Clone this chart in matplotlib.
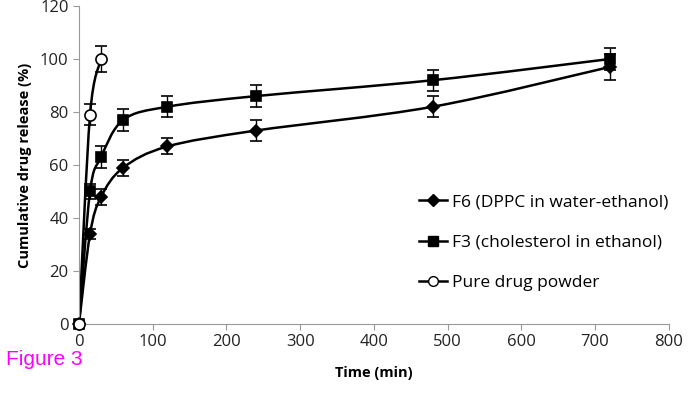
import numpy as np
import matplotlib.pyplot as plt
from matplotlib.path import Path
from matplotlib.patches import PathPatch
from matplotlib.lines import Line2D

# =========================
# Data
# =========================
t_f6 = [0, 15, 30, 60, 120, 240, 480, 720]
f6 = [0, 34, 48, 59, 67, 73, 82, 97]
f6_err = [0, 2, 3, 3, 3, 4, 4, 5]

t_f3 = [0, 15, 30, 60, 120, 240, 480, 720]
f3 = [0, 50, 63, 77, 82, 86, 92, 100]
f3_err = [0, 3, 4, 4, 4, 4, 4, 4]

t_pure = [0, 15, 30]
pure = [0, 79, 100]
pure_err = [0, 4, 5]

labels = ["F6 (DPPC in water-ethanol)", "F3 (cholesterol in ethanol)", "Pure drug powder"]


def smooth_path(x, y):
    # Excel-like smoothed line: cubic Bezier segments through the points
    x = np.asarray(x, float)
    y = np.asarray(y, float)
    verts = [(x[0], y[0])]
    codes = [Path.MOVETO]
    n = len(x)
    for i in range(n - 1):
        x0, y0 = (x[i - 1], y[i - 1]) if i > 0 else (x[i], y[i])
        x3, y3 = (x[i + 2], y[i + 2]) if i + 2 < n else (x[i + 1], y[i + 1])
        c1 = (x[i] + (x[i + 1] - x0) / 6, y[i] + (y[i + 1] - y0) / 6)
        c2 = (x[i + 1] - (x3 - x[i]) / 6, y[i + 1] - (y3 - y[i]) / 6)
        verts += [c1, c2, (x[i + 1], y[i + 1])]
        codes += [Path.CURVE4] * 3
    return Path(verts, codes)


plt.rcParams['font.family'] = ['Open Sans', 'DejaVu Sans']

fig = plt.figure(figsize=(6.96, 4), dpi=100)
ax = fig.add_axes([0.1135, 0.19, 0.8475, 0.795])

series = [
    (t_f6, f6, f6_err, 'D', 'black', 6.5),
    (t_f3, f3, f3_err, 's', 'black', 7),
    (t_pure, pure, pure_err, 'o', 'white', 8),
]
for t, v, e, m, fc, ms in series:
    ax.add_patch(PathPatch(smooth_path(t, v), fill=False, lw=1.8, ec='black', zorder=2))
    ax.errorbar(t, v, yerr=e, fmt=m, mfc=fc, mec='black', mew=1.2, ms=ms,
                ecolor='black', elinewidth=1, capsize=4, capthick=1, zorder=3,
                clip_on=False)

ax.set_xlim(0, 800)
ax.set_ylim(0, 120)
ax.set_xticks(range(0, 801, 100))
ax.set_yticks(range(0, 121, 20))
for s in ['top', 'right']:
    ax.spines[s].set_visible(False)
for s in ['left', 'bottom']:
    ax.spines[s].set_color('#999999')
ax.tick_params(colors='#999999', labelcolor='#222222', labelsize=12, length=4, direction='out')

ax.set_xlabel("Time (min)", fontsize=10.5, fontweight='bold', labelpad=11)
ax.set_ylabel("Cumulative drug release (%)", fontsize=10.5, fontweight='bold', labelpad=6)

handles = [
    Line2D([], [], color='black', lw=1.8, marker='D', ms=6, mfc='black', mec='black'),
    Line2D([], [], color='black', lw=1.8, marker='s', ms=7, mfc='black', mec='black'),
    Line2D([], [], color='black', lw=1.8, marker='o', ms=7, mfc='white', mec='black'),
]
ax.legend(handles, labels, loc='center left', bbox_to_anchor=(0.55, 0.255), frameon=False,
          fontsize=12.5, handlelength=1.6, handletextpad=0.3, labelspacing=1.4)

fig.text(0.009, 0.088, "Figure 3", color='#ff00ff', fontsize=15, family='Liberation Sans')

fig.savefig("out.png", dpi=100)
